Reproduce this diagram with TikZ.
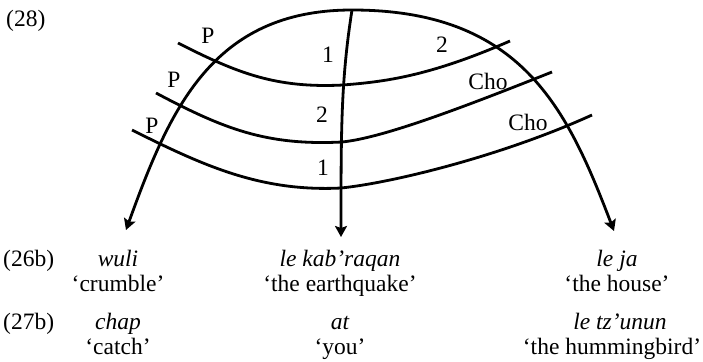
\documentclass[tikz,border=0pt]{standalone}
\usepackage{fontspec}
\setmainfont{Liberation Serif}
\usepackage{tikz}
\usetikzlibrary{arrows.meta}

\begin{document}
\begin{tikzpicture}[x=1pt, y=-1pt,
          every node/.style={inner sep=0pt, font=\fontsize{23.5}{28}\selectfont},
          curve/.style={line width=2.8pt},
          >={Stealth[length=11pt,width=12pt,inset=2pt]},
          word/.style={anchor=base, font=\fontsize{23.5}{28}\selectfont\itshape},
          gloss/.style={anchor=base},
          exno/.style={anchor=base west}
      ]
        \useasboundingbox (0,0) rectangle (703,361);
        \coordinate (lft) at (126,230);
        \coordinate (top) at (352,10);
        \coordinate (rgt) at (614,231);
        \coordinate (mid) at (341,237);
        \coordinate (a1) at (178,43);  \coordinate (m1) at (343,85);  \coordinate (b1) at (510,41);
        \coordinate (a2) at (156,93);  \coordinate (m2) at (342,142); \coordinate (b2) at (552,72);
        \coordinate (a3) at (132,130); \coordinate (m3) at (341,188); \coordinate (b3) at (592,115);
        \draw[curve, <->] (lft) .. controls (169.5,110) and (212,10) .. (top)
              .. controls (522,10) and (567.5,109.5) .. (rgt);
        \draw[curve, ->] (top) .. controls (341,80) and (341,130) .. (mid);
        \draw[curve] (a1) .. controls (237.7,73.4) and (276,88.4) .. (m1)
              .. controls (383,81.8) and (427.6,77) .. (b1);
        \draw[curve] (a2) .. controls (223.1,128.6) and (266,145.8) .. (m2)
              .. controls (382,138) and (459,109) .. (b2);
        \draw[curve] (a3) .. controls (203.5,165.8) and (261,192) .. (m3)
              .. controls (391,183) and (501,156.4) .. (b3);
        \node[anchor=west] (ex28) at (6,21) {(28)};
        \node (p1) at (208,36) {P};
        \node (p2) at (174,80) {P};
        \node (p3) at (152,126) {P};
        \node (n1) at (328,55) {1};
        \node (n2) at (322,115) {2};
        \node (n3) at (323,168) {1};
        \node (n4) at (442,45) {2};
        \node (cho1) at (488,81) {Cho};
        \node (cho2) at (528,122) {Cho};
        \node[exno] (ex26) at (3,266) {(26b)};
        \node[word] (wuli) at (118,266) {wuli};
        \node[gloss] (crumble) at (118,291) {`crumble'};
        \node[word] (kab) at (340,266) {le kab'raqan};
        \node[gloss] (quake) at (340,291) {`the earthquake'};
        \node[word] (ja) at (617,266) {le ja};
        \node[gloss] (house) at (617,291) {`the house'};
        \node[exno] (ex27) at (3,329) {(27b)};
        \node[word] (chap) at (118,329) {chap};
        \node[gloss] (catch) at (118,354) {`catch'};
        \node[word] (at) at (340,329) {at};
        \node[gloss] (you) at (340,354) {`you'};
        \node[word] (tz) at (620,329) {le tz'unun};
        \node[gloss] (bird) at (612,354) {`the hummingbird'};
      \end{tikzpicture}
\end{document}
